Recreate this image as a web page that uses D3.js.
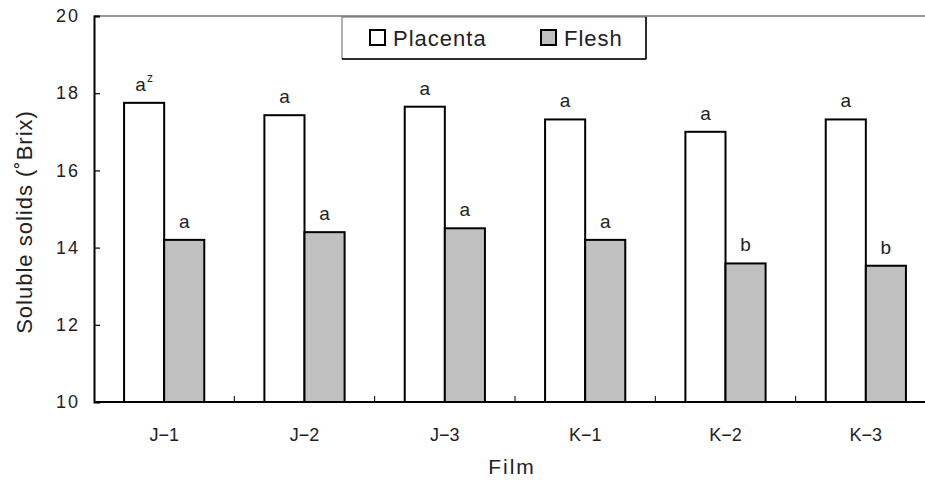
<!DOCTYPE html>
<html lang="en">
<head>
<meta charset="UTF-8">
<title>Soluble solids</title>
<script src="https://cdn.jsdelivr.net/npm/d3@7"></script>
<style>
  body { margin: 0; background: #fff; }
  text { font-family: "Liberation Sans", Arial, sans-serif; fill: #222; }
</style>
</head>
<body>
<div id="main_container"></div>
<script>
    var films = ["J\u22121", "J\u22122", "J\u22123", "K\u22121", "K\u22122", "K\u22123"];
    var placenta = [17.75, 17.43, 17.65, 17.32, 17.0, 17.32];
    var flesh = [14.2, 14.4, 14.5, 14.2, 13.59, 13.53];
    var placentaLetters = ["a", "a", "a", "a", "a", "a"];
    var fleshLetters = ["a", "a", "a", "a", "b", "b"];
    var yTicks = [10, 12, 14, 16, 18, 20];

    var svgWidth = 925, svgHeight = 483;
    var svg = d3.select("#main_container").append("svg")
        .attr("width", svgWidth)
        .attr("height", svgHeight);

    var plotLeft = 94, plotTop = 16, plotBottom = 402, plotRight = 936;

    var x = d3.scaleBand().domain(films).range([plotLeft, plotRight]);
    var xs = d3.scaleBand().domain(["Placenta", "Flesh"])
        .range([0, x.bandwidth()]).paddingOuter(0.75).paddingInner(0);
    var y = d3.scaleLinear().domain([10, 20]).range([plotBottom, plotTop]);

    // top frame line
    svg.append("line")
        .attr("x1", plotLeft).attr("x2", svgWidth)
        .attr("y1", plotTop).attr("y2", plotTop)
        .attr("stroke", "#777").attr("stroke-width", 1.5);

    // bars
    var g = svg.selectAll(".grp").data(films).enter().append("g")
        .attr("transform", function(d) { return "translate(" + x(d) + ",0)"; });

    g.append("rect")
        .attr("x", xs("Placenta"))
        .attr("width", xs.bandwidth())
        .attr("y", function(d, i) { return y(placenta[i]); })
        .attr("height", function(d, i) { return plotBottom - y(placenta[i]); })
        .attr("fill", "#fff").attr("stroke", "#000").attr("stroke-width", 2);

    g.append("rect")
        .attr("x", xs("Flesh"))
        .attr("width", xs.bandwidth())
        .attr("y", function(d, i) { return y(flesh[i]); })
        .attr("height", function(d, i) { return plotBottom - y(flesh[i]); })
        .attr("fill", "#c0c0c0").attr("stroke", "#000").attr("stroke-width", 2);

    // letters
    var pl = g.append("text")
        .attr("x", xs("Placenta") + xs.bandwidth() / 2)
        .attr("y", function(d, i) { return y(placenta[i]) - 12; })
        .attr("text-anchor", "middle")
        .style("font-size", "19px")
        .text(function(d, i) { return placentaLetters[i]; });
    pl.filter(function(d, i) { return i === 0; })
        .append("tspan").attr("dy", -9).attr("dx", 1).style("font-size", "12px").text("z");

    g.append("text")
        .attr("x", xs("Flesh") + xs.bandwidth() / 2)
        .attr("y", function(d, i) { return y(flesh[i]) - 12; })
        .attr("text-anchor", "middle")
        .style("font-size", "19px")
        .text(function(d, i) { return fleshLetters[i]; });

    // y axis
    var yAxis = svg.append("g")
        .attr("transform", "translate(" + plotLeft + ",0)")
        .call(d3.axisLeft(y).tickValues(yTicks).tickSize(-6).tickPadding(14));
    yAxis.select(".domain").attr("stroke", "#000").attr("stroke-width", 2);
    yAxis.selectAll(".tick line").attr("stroke", "#000").attr("stroke-width", 1.2);
    yAxis.selectAll(".tick text").style("font-size", "18px")
        .style("letter-spacing", "2px")
        .style("font-family", "'Liberation Sans', Arial, sans-serif").attr("fill", "#222");

    // x axis
    svg.append("line")
        .attr("x1", plotLeft).attr("x2", svgWidth)
        .attr("y1", plotBottom).attr("y2", plotBottom)
        .attr("stroke", "#000").attr("stroke-width", 2);
    svg.selectAll(".xtick").data(films.slice(1)).enter().append("line")
        .attr("x1", function(d) { return x(d); })
        .attr("x2", function(d) { return x(d); })
        .attr("y1", plotBottom).attr("y2", plotBottom - 6)
        .attr("stroke", "#000").attr("stroke-width", 1);
    svg.selectAll(".xlab").data(films).enter().append("text")
        .attr("x", function(d) { return x(d) + x.bandwidth() / 2; })
        .attr("y", 441)
        .attr("text-anchor", "middle")
        .style("font-size", "18px")
        .text(function(d) { return d; });

    // axis titles
    svg.append("text")
        .attr("x", 512).attr("y", 474)
        .attr("text-anchor", "middle")
        .style("font-size", "21px")
        .style("letter-spacing", "2px")
        .text("Film");
    svg.append("text")
        .attr("transform", "translate(32,222) rotate(-90)")
        .attr("text-anchor", "middle")
        .style("font-size", "22px")
        .style("letter-spacing", "1px")
        .text("Soluble solids (\u02DABrix)");

    // legend
    var lg = svg.append("g");
    lg.append("rect").attr("x", 342).attr("y", 17).attr("width", 304).attr("height", 42)
        .attr("fill", "#fff").attr("stroke", "#666").attr("stroke-width", 1);
    lg.append("line").attr("x1", 342).attr("x2", 646).attr("y1", 59).attr("y2", 59)
        .attr("stroke", "#000").attr("stroke-width", 1.5);
    lg.append("line").attr("x1", 646).attr("x2", 646).attr("y1", 17).attr("y2", 59)
        .attr("stroke", "#000").attr("stroke-width", 1.5);
    var legendItems = [
        { name: "Placenta", fill: "#fff", x: 370 },
        { name: "Flesh", fill: "#c0c0c0", x: 541 }
    ];
    var li = lg.selectAll(".li").data(legendItems).enter().append("g");
    li.append("rect")
        .attr("x", function(d) { return d.x; }).attr("y", 30)
        .attr("width", 15).attr("height", 15)
        .attr("fill", function(d) { return d.fill; })
        .attr("stroke", "#000").attr("stroke-width", 2);
    li.append("text")
        .attr("x", function(d) { return d.x + 23; }).attr("y", 46)
        .style("font-size", "22px")
        .style("letter-spacing", "1px")
        .text(function(d) { return d.name; });
</script>
</body>
</html>
